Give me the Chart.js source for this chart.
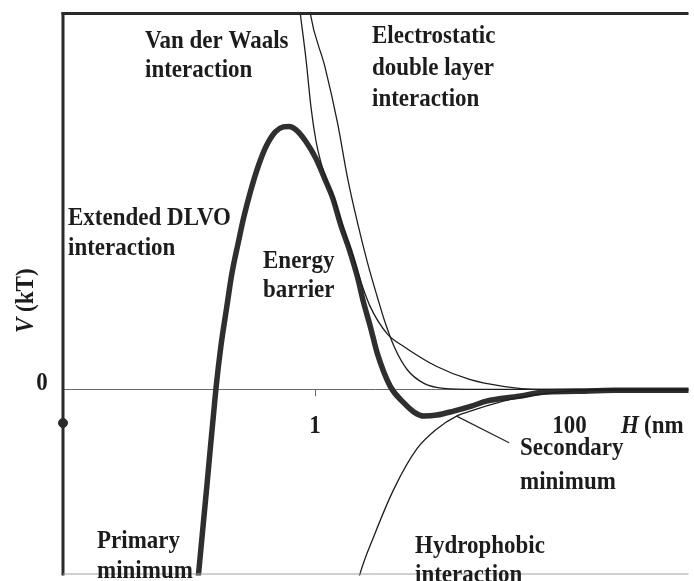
<!DOCTYPE html>
<html><head><meta charset="utf-8">
<script src="https://cdn.jsdelivr.net/npm/chart.js@4.4.0/dist/chart.umd.min.js"></script>
<style>html,body{margin:0;padding:0;background:#fff;}#wrap{width:694px;height:581px;position:relative;overflow:hidden}</style>
</head><body><div id="wrap"><canvas id="c" width="694" height="581"></canvas></div>
<script>
// Separation distance H (nm) and interaction energy V (arbitrary kT units)
const H_DLVO = [0.1186,0.1418,0.1667,0.1823,0.2029,0.2220,0.2517,0.2753,0.3120,0.3601,0.4156,0.4885,0.5636,0.6275,0.7114,0.8511,1.018,1.218,1.380,1.594,1.873,2.161,2.406,2.728,3.093,3.904,5.017,6.001,7.178,9.06,12.29,16.97,22.2,40.1,61.7,111.4,228,859,1368];
const V_DLVO = [-20.2,-9.7,0,4.3,8.3,11.6,15.0,17.3,20.0,22.6,24.6,26.0,26.5,26.55,26.2,25.0,23.3,21.0,19.3,16.6,14.0,11.3,8.8,6.3,3.6,0.3,-1.4,-2.3,-2.7,-2.6,-2.2,-1.7,-1.2,-0.7,-0.3,-0.2,-0.1,-0.1,-0.1];

const H_VDW = [0.7374,0.7644,0.8511,0.9308,1.018,1.094,1.196,1.285,1.431,1.652,1.941,2.240,2.406,2.728,3.699,5.017,9.06,16.37,30.1,54.4,859,1368];
const V_VDW = [39.8,38.1,33.3,28.5,25.1,23.3,21.6,20.5,19.1,16.5,13.9,11.3,10.1,8.3,5.6,4.3,2.3,1.0,0.3,0.0,0.0,0.0];

const H_EDL = [0.882,0.9142,1.196,1.510,1.806,2.161,2.585,3.093,3.505,4.195,5.293,7.178,10.27,18.56,859,1368];
const V_EDL = [39.8,38.1,32.6,26.8,21.3,16.8,12.8,9.3,7.0,4.3,2.0,0.6,0.1,0,0,0];

const H_HYD = [2.161,2.240,2.931,4.195,6.332,9.06,12.96,18.56,26.56,38.0,59.5,93.1,159.4,859,1368];
const V_HYD = [-19.7,-18.8,-14.7,-10.0,-6.0,-4.0,-2.7,-2.0,-1.4,-0.9,-0.5,-0.2,-0.1,-0.1,-0.1];

// pointer from the secondary minimum to its label
const H_PTR = [12.96, 33.5];
const V_PTR = [-2.7, -5.4];

// marker on the energy axis
const H_DOT = [0.0105];
const V_DOT = [-3.4];

const X_TICKS = [1, 100];
const X_TICK_LABELS = ['1', '100'];
const Y_TICKS = [0];
const Y_TICK_LABELS = ['0'];

const X_MIN = 0.0105, X_MAX = 859;
const Y_MIN = -18.8, Y_MAX = 38.1;

const LABELS = [
  {t:['Van der Waals','interaction'], x:145, y:48, lh:29},
  {t:['Electrostatic','double layer','interaction'], x:372, y:43, lh:31.5},
  {t:['Extended DLVO','interaction'], x:68, y:225, lh:30},
  {t:['Energy','barrier'], x:263, y:268, lh:29},
  {t:['Primary','minimum'], x:97, y:548, lh:30},
  {t:['Hydrophobic','interaction'], x:415, y:553, lh:29},
  {t:['Secondary','minimum'], x:520, y:455, lh:34}
];

const zip = (a, b) => a.map((v, i) => ({x: v, y: b[i]}));
const FONT = '"Liberation Serif", "DejaVu Serif", serif';
const TXT = '#1c1c1c';

function drawText(ctx, s, x, y, opts) {
  opts = opts || {};
  ctx.save();
  ctx.translate(x, y);
  ctx.scale(1, 1.12);
  ctx.font = (opts.style || 'bold') + ' ' + (opts.size || 23) + 'px ' + FONT;
  ctx.fillStyle = TXT;
  ctx.textAlign = opts.align || 'left';
  ctx.textBaseline = 'alphabetic';
  ctx.fillText(s, 0, 0);
  ctx.restore();
}

const decor = {
  id: 'decor',
  beforeDatasetsDraw(chart) {
    const ctx = chart.ctx, a = chart.chartArea;
    const xs = chart.scales.x, ys = chart.scales.y;
    const y0 = ys.getPixelForValue(0);
    ctx.save();
    ctx.strokeStyle = '#6a6a6a';
    ctx.lineWidth = 1;
    ctx.beginPath();
    ctx.moveTo(a.left, Math.round(y0) + 0.5);
    ctx.lineTo(a.right, Math.round(y0) + 0.5);
    ctx.stroke();
    // tick at H = 1
    const xt = Math.round(xs.getPixelForValue(X_TICKS[0])) + 0.5;
    ctx.beginPath();
    ctx.moveTo(xt, y0);
    ctx.lineTo(xt, y0 + 7);
    ctx.stroke();
    ctx.restore();
  },
  afterDatasetsDraw(chart) {
    const ctx = chart.ctx, a = chart.chartArea;
    const xs = chart.scales.x, ys = chart.scales.y;
    const y0 = ys.getPixelForValue(0);
    ctx.save();
    // frame
    ctx.strokeStyle = '#2a2a2a';
    ctx.lineWidth = 3;
    ctx.beginPath();
    ctx.moveTo(a.left - 1.5, a.top + 1.5);
    ctx.lineTo(a.right, a.top + 1.5);
    ctx.stroke();
    ctx.beginPath();
    ctx.moveTo(a.left, a.top);
    ctx.lineTo(a.left, a.bottom);
    ctx.stroke();
    ctx.strokeStyle = '#a0a0a0';
    ctx.lineWidth = 1;
    ctx.beginPath();
    ctx.moveTo(a.left, a.bottom - 1.5);
    ctx.lineTo(a.right, a.bottom - 1.5);
    ctx.stroke();
    ctx.restore();

    // tick labels
    X_TICKS.forEach((v, i) => {
      drawText(ctx, X_TICK_LABELS[i], xs.getPixelForValue(v), y0 + 44, {align:'center'});
    });
    Y_TICKS.forEach((v, i) => {
      drawText(ctx, Y_TICK_LABELS[i], 42, ys.getPixelForValue(v) + 1, {align:'center'});
    });
    // x axis title
    drawText(ctx, 'H', 621, y0 + 44, {style:'italic bold'});
    drawText(ctx, '(nm', 644, y0 + 44, {style:'bold'});
    // y axis title
    ctx.save();
    ctx.translate(33, 333);
    ctx.rotate(-Math.PI / 2);
    ctx.font = 'italic bold 23px ' + FONT;
    const wV = ctx.measureText('V').width;
    drawText(ctx, 'V', 0, 0, {style:'italic bold'});
    drawText(ctx, ' (kT)', wV, 0, {style:'bold'});
    ctx.restore();

    // annotations
    LABELS.forEach(L => {
      L.t.forEach((s, i) => drawText(ctx, s, L.x, L.y + i * L.lh));
    });
  }
};

const thin = {borderColor:'#1e1e1e', borderWidth:1.3, pointRadius:0, fill:false, cubicInterpolationMode:'monotone'};

new Chart(document.getElementById('c'), {
  type: 'line',
  data: {
    datasets: [
      Object.assign({label:'Van der Waals interaction', data: zip(H_VDW, V_VDW)}, thin),
      Object.assign({label:'Electrostatic double layer interaction', data: zip(H_EDL, V_EDL)}, thin),
      Object.assign({label:'Hydrophobic interaction', data: zip(H_HYD, V_HYD)}, thin),
      {label:'pointer', data: zip(H_PTR, V_PTR), borderColor:'#2a2a2a', borderWidth:1.3, pointRadius:0, tension:0},
      {label:'Extended DLVO interaction', data: zip(H_DLVO, V_DLVO), borderColor:'#2f2f2f', borderWidth:5.5, pointRadius:0, fill:false, cubicInterpolationMode:'monotone', borderCapStyle:'round', borderJoinStyle:'round'},
      {label:'axis marker', type:'scatter', data: zip(H_DOT, V_DOT), pointRadius:4.5, pointBackgroundColor:'#2a2a2a', pointBorderColor:'#2a2a2a', clip:false, showLine:false}
    ]
  },
  options: {
    responsive: false,
    animation: false,
    devicePixelRatio: 1,
    layout: {padding: {left: 63, top: 12, right: 0, bottom: 0}},
    plugins: {legend: {display:false}, tooltip: {enabled:false}, title:{display:false}},
    scales: {
      x: {type:'logarithmic', min:X_MIN, max:X_MAX, display:false},
      y: {type:'linear', min:Y_MIN, max:Y_MAX, display:false}
    }
  },
  plugins: [decor]
});
</script>
</body></html>
